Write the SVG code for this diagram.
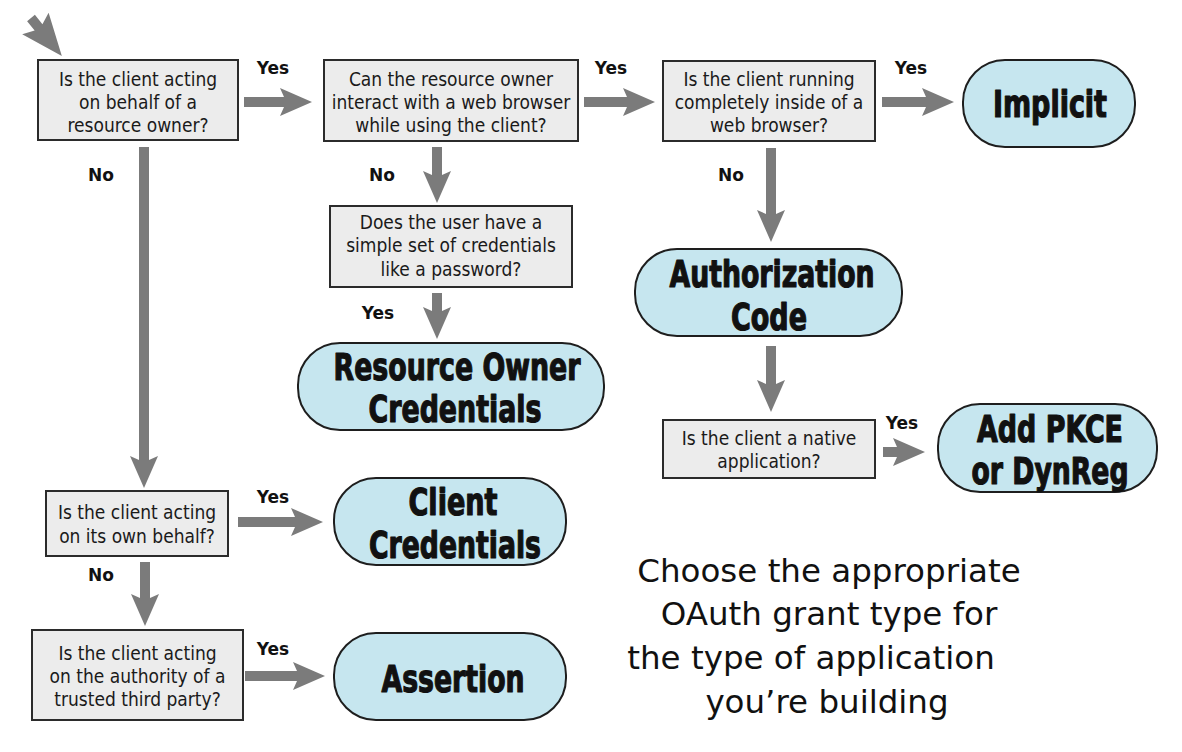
<svg xmlns="http://www.w3.org/2000/svg" width="1182" height="752" viewBox="0 0 1182 752">
<style>
.q rect{fill:#ececec;stroke:#2b2b2b;stroke-width:2}
.q text{font-family:"DejaVu Sans Condensed","DejaVu Sans",sans-serif;font-stretch:condensed;font-size:19px;fill:#1a1a1a;text-anchor:middle}
.g rect{fill:#c6e6ef;stroke:#1e1e1e;stroke-width:2}
.g text{font-family:"DejaVu Sans Condensed","DejaVu Sans",sans-serif;font-stretch:condensed;font-weight:bold;font-size:38px;fill:#111;stroke:#111;stroke-width:1.2;stroke-linejoin:round;text-anchor:middle}
.lbl{font-family:"DejaVu Sans",sans-serif;font-weight:bold;font-size:17px;fill:#111;text-anchor:middle}
.cap{font-family:"DejaVu Sans",sans-serif;font-size:32.5px;fill:#111;text-anchor:middle}
.arrow{fill:#7b7b7b}
</style>
<rect width="1182" height="752" fill="#fff"/>

<g id="connectors">
<path class="arrow" d="M0,-5 H12 L7,-17 L49,0 L7,17 L12,5 H0 Z" transform="translate(31,18) rotate(51)"/>
<path class="arrow" d="M244,97 H284 L280,88 L312,102 L280,116 L284,107 H244 Z"/>
<path class="arrow" d="M584,97 H627 L623,88 L655,102 L623,116 L627,107 H584 Z"/>
<path class="arrow" d="M882,97 H926 L922,88 L954,102 L922,116 L926,107 H882 Z"/>
<path class="arrow" d="M139,147 V460 L130,456 L144,488 L158,456 L149,460 V147 Z"/>
<path class="arrow" d="M432,147 V175 L423,171 L437,203 L451,171 L442,175 V147 Z"/>
<path class="arrow" d="M432,293 V311 L423,307 L437,339 L451,307 L442,311 V293 Z"/>
<path class="arrow" d="M766,148 V214 L757,210 L771,242 L785,210 L776,214 V148 Z"/>
<path class="arrow" d="M766,346 V384 L757,380 L771,412 L785,380 L776,384 V346 Z"/>
<path class="arrow" d="M883,447 H897 L893,438 L925,452 L893,466 L897,457 H883 Z"/>
<path class="arrow" d="M238,517 H295 L291,508 L323,522 L291,536 L295,527 H238 Z"/>
<path class="arrow" d="M140,562 V598 L131,594 L145,626 L159,594 L150,598 V562 Z"/>
<path class="arrow" d="M245,671 H297 L293,662 L325,676 L293,690 L297,681 H245 Z"/>
<text class="lbl" x="273" y="74">Yes</text>
<text class="lbl" x="611" y="74">Yes</text>
<text class="lbl" x="911" y="74">Yes</text>
<text class="lbl" x="101" y="181">No</text>
<text class="lbl" x="382" y="181">No</text>
<text class="lbl" x="731" y="181">No</text>
<text class="lbl" x="378" y="319">Yes</text>
<text class="lbl" x="902" y="429">Yes</text>
<text class="lbl" x="273" y="503">Yes</text>
<text class="lbl" x="101" y="581">No</text>
<text class="lbl" x="273" y="655">Yes</text>
</g>

<g id="q-behalf" class="q">
<rect x="38" y="60" width="200" height="80"/>
<text x="138" y="85.5">Is the client acting</text>
<text x="138" y="108.5">on behalf of a</text>
<text x="138" y="131.5">resource owner?</text>
</g>
<g id="q-browser" class="q">
<rect x="324" y="60" width="254" height="81"/>
<text x="451" y="85.5">Can the resource owner</text>
<text x="451" y="108.5">interact with a web browser</text>
<text x="451" y="131.5">while using the client?</text>
</g>
<g id="q-inside" class="q">
<rect x="663" y="61" width="212" height="80"/>
<text x="769" y="85.5">Is the client running</text>
<text x="769" y="108.5">completely inside of a</text>
<text x="769" y="131.5">web browser?</text>
</g>
<g id="q-password" class="q">
<rect x="330" y="206" width="242" height="81"/>
<text x="451" y="229">Does the user have a</text>
<text x="451" y="252">simple set of credentials</text>
<text x="451" y="275.5">like a password?</text>
</g>
<g id="q-native" class="q">
<rect x="663" y="420" width="212" height="58"/>
<text x="769" y="444.5">Is the client a native</text>
<text x="769" y="467.5">application?</text>
</g>
<g id="q-own" class="q">
<rect x="46" y="491" width="182" height="65"/>
<text x="137" y="518.5">Is the client acting</text>
<text x="137" y="543">on its own behalf?</text>
</g>
<g id="q-third" class="q">
<rect x="32" y="630" width="211" height="90"/>
<text x="137.5" y="659.5">Is the client acting</text>
<text x="137.5" y="682.5">on the authority of a</text>
<text x="137.5" y="705.5">trusted third party?</text>
</g>

<g id="g-implicit" class="g">
<rect x="963" y="60" width="172" height="87" rx="42" ry="42"/>
<text x="1050" y="117" textLength="114" lengthAdjust="spacingAndGlyphs">Implicit</text>
</g>
<g id="g-roc" class="g">
<rect x="298" y="343" width="306" height="87" rx="42" ry="42"/>
<text x="457" y="380" textLength="247" lengthAdjust="spacingAndGlyphs">Resource Owner</text>
<text x="455" y="422" textLength="173" lengthAdjust="spacingAndGlyphs">Credentials</text>
</g>
<g id="g-authcode" class="g">
<rect x="635" y="249" width="267" height="87" rx="42" ry="42"/>
<text x="772" y="287" textLength="205" lengthAdjust="spacingAndGlyphs">Authorization</text>
<text x="769" y="330" textLength="76" lengthAdjust="spacingAndGlyphs">Code</text>
</g>
<g id="g-pkce" class="g">
<rect x="938" y="404" width="219" height="88" rx="42" ry="42"/>
<text x="1050" y="442" textLength="146" lengthAdjust="spacingAndGlyphs">Add PKCE</text>
<text x="1050" y="484" textLength="157" lengthAdjust="spacingAndGlyphs">or DynReg</text>
</g>
<g id="g-clientcred" class="g">
<rect x="334" y="478" width="232" height="87" rx="42" ry="42"/>
<text x="453" y="515" textLength="89" lengthAdjust="spacingAndGlyphs">Client</text>
<text x="455" y="558" textLength="172" lengthAdjust="spacingAndGlyphs">Credentials</text>
</g>
<g id="g-assertion" class="g">
<rect x="334" y="633" width="232" height="87" rx="42" ry="42"/>
<text x="453" y="692" textLength="143" lengthAdjust="spacingAndGlyphs">Assertion</text>
</g>

<g id="caption">
<text class="cap" x="829" y="582">Choose the appropriate</text>
<text class="cap" x="829" y="625">OAuth grant type for</text>
<text class="cap" x="811" y="669">the type of application</text>
<text class="cap" x="827" y="713">you’re building</text>
</g>
</svg>
